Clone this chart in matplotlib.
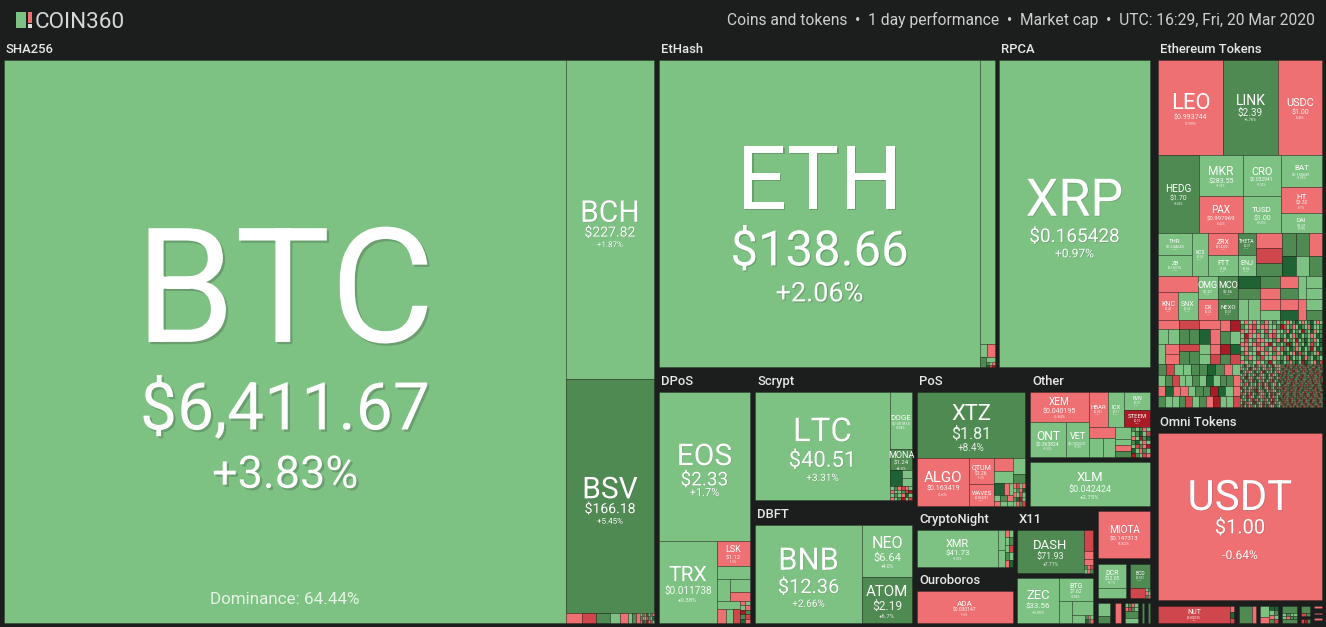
"""
COIN360 market cap heatmap, 20 Mar 2020
Treemap tiles come from nested weight lists, read off the screenshot.
"""

import matplotlib
matplotlib.use('Agg')
import matplotlib.pyplot as plt
import matplotlib.patheffects as pe
from matplotlib.patches import Rectangle

plt.rcParams['font.family'] = ['Roboto', 'DejaVu Sans']

# tile colours by performance bucket
COLORS = {
    'g': '#7dc283', 'm': '#4f8a52', 'd': '#1f6233',
    'r': '#ee7072', 'c': '#cf474c', 'x': '#a91c26',
}

PRICES = {
    'BTC': '$6,411.67', 'BCH': '$227.82', 'BSV': '$166.18', 'ETH': '$138.66',
    'XRP': '$0.165428', 'EOS': '$2.33', 'TRX': '$0.011738', 'LSK': '$1.12',
    'LTC': '$40.51', 'DOGE': '$0.001814', 'MONA': '$1.24', 'BNB': '$12.36',
    'NEO': '$6.64', 'ATOM': '$2.19', 'XTZ': '$1.81', 'ALGO': '$0.163419',
    'QTUM': '$1.26', 'WAVES': '$0.863281', 'XEM': '$0.040195', 'ONT': '$0.363824',
    'VET': '$0.002531', 'XLM': '$0.042424', 'DASH': '$71.93', 'ZEC': '$33.56',
    'BTG': '$7.62', 'MIOTA': '$0.147313', 'DCR': '$12.05', 'BCD': '$0.551',
    'XMR': '$41.73', 'ADA': '$0.030147', 'USDT': '$1.00', 'LEO': '$0.993744',
    'LINK': '$2.39', 'USDC': '$1.00', 'HEDG': '$1.70', 'MKR': '$283.55',
    'CRO': '$0.032941', 'BAT': '$0.150681', 'PAX': '$0.997969', 'TUSD': '$1.00',
    'HT': '$3.32', 'DAI': '$1.01', 'THR': '$1.244645', 'ZB': '$0.130374',
    'KCS': '$0.55', 'ZRX': '$0.142021', 'FTT': '$1.84', 'THETA': '$0.07',
    'ENJ': '$0.06', 'OMG': '$0.47', 'MCO': '$2.56', 'KNC': '$0.42',
    'SNX': '$0.65', 'DX': '$0.02', 'NEXO': '$0.07', 'HBAR': '$0.021',
    'ICX': '$0.11', 'RVN': '$0.01', 'STEEM': '$0.10', 'NUT': '$0.000155',
}
CHANGES = {
    'BTC': '+3.83%', 'BCH': '+1.87%', 'BSV': '+5.45%', 'ETH': '+2.06%',
    'XRP': '+0.97%', 'EOS': '+1.7%', 'TRX': '+0.38%', 'LSK': '-1.5%',
    'LTC': '+3.31%', 'DOGE': '+0.84%', 'MONA': '+4.8%', 'BNB': '+2.66%',
    'NEO': '+4.0%', 'ATOM': '+6.7%', 'XTZ': '+8.4%', 'ALGO': '-0.6%',
    'QTUM': '-1.2%', 'WAVES': '-0.9%', 'XEM': '-0.84%', 'ONT': '+1.02%',
    'VET': '+1.3%', 'XLM': '+2.75%', 'DASH': '+7.71%', 'ZEC': '+0.95%',
    'BTG': '+2.88%', 'MIOTA': '-3.82%', 'DCR': '+1.1%', 'BCD': '+5.0%',
    'XMR': '+1.02%', 'ADA': '-1.6%', 'USDT': '-0.64%', 'LEO': '-0.99%',
    'LINK': '+6.78%', 'USDC': '-0.48%', 'HEDG': '+5.86%', 'MKR': '+1.52%',
    'CRO': '+1.53%', 'BAT': '+1.86%', 'PAX': '-0.42%', 'TUSD': '+0.25%',
    'HT': '-0.7%', 'DAI': '+0.9%', 'THR': '+2.86%', 'ZB': '+0.94%',
    'KCS': '+1.0%', 'ZRX': '-1.6%', 'FTT': '+1.5%', 'THETA': '+6.1%',
    'ENJ': '+1.9%', 'OMG': '+1.4%', 'MCO': '+5.2%', 'KNC': '-1.3%',
    'SNX': '+1.7%', 'DX': '-1.1%', 'NEXO': '+4.6%', 'HBAR': '-1.4%',
    'ICX': '+1.2%', 'RVN': '+0.8%', 'STEEM': '-9.1%', 'NUT': '-3.5%',
}
# name / price / change font size in pixels
LABEL_PX = {
    'BTC': (160, 66, 45), 'BCH': (30, 14, 8), 'BSV': (30, 14, 8), 'ETH': (88, 49, 27),
    'XRP': (52, 19, 12), 'EOS': (30, 19, 11), 'TRX': (21, 10, 6), 'LSK': (9, 6, 3),
    'LTC': (33, 22, 10), 'DOGE': (8, 4, 3), 'MONA': (9, 6, 4), 'BNB': (31, 20, 10),
    'NEO': (16, 11, 5), 'ATOM': (15, 12, 6), 'XTZ': (22, 16, 10), 'ALGO': (15, 7, 4),
    'QTUM': (7, 5, 3), 'WAVES': (6, 3, 2), 'XEM': (10, 7, 4), 'ONT': (12, 5, 3),
    'VET': (9, 4, 3), 'XLM': (13, 9, 6), 'DASH': (13, 9, 5), 'ZEC': (13, 8, 4),
    'BTG': (7, 5, 3), 'MIOTA': (10, 6, 4), 'DCR': (7, 5, 3), 'BCD': (5, 3, 2),
    'XMR': (11, 8, 3), 'ADA': (8, 5, 3), 'USDT': (42, 20, 12), 'LEO': (22, 7, 4),
    'LINK': (14, 10, 4), 'USDC': (11, 7, 3), 'HEDG': (10, 7, 3), 'MKR': (12, 7, 3),
    'CRO': (11, 5, 3), 'BAT': (8, 4, 3), 'PAX': (10, 6, 3), 'TUSD': (8, 7, 3),
    'HT': (8, 5, 3), 'DAI': (6, 4, 3), 'THR': (6, 4, 2), 'ZB': (6, 3, 2),
    'KCS': (5, 3, 2), 'ZRX': (7, 3, 2), 'FTT': (7, 3, 2), 'THETA': (5, 3, 2),
    'ENJ': (7, 3, 2), 'OMG': (9, 4, 2), 'MCO': (9, 4, 2), 'KNC': (7, 3, 2),
    'SNX': (7, 3, 2), 'DX': (6, 3, 2), 'NEXO': (6, 3, 2), 'HBAR': (6, 3, 2),
    'ICX': (6, 3, 2), 'RVN': (5, 3, 2), 'STEEM': (6, 3, 2), 'NUT': (7, 3, 2),
}
# nudges for the label rows that drift from the common spacing
LABEL_SHIFT = {
    'BTC': (0, 0, 2), 'USDT': (-5, -7, 3), 'ETH': (3, 0, 0), 'BCH': (3, 0, 0),
    'BSV': (3, 0, 0), 'EOS': (3, 1, -3), 'LINK': (0, -1, -2),
}

# tree nodes: [weight, 'h'|'v', children], [weight, colour, name],
# [weight, '_', title] for empty space, [weight, 'grid', rows of colour letters]
SHA256 = [650, 'v', [
    [20, '_', 'SHA256'],
    [563, 'h', [
        [562, 'g', 'BTC'],
        [88, 'v', [
            [319, 'g', 'BCH'],
            [234, 'm', 'BSV'],
            [10, 'h', [
                [16, 'r'], [14, 'c'], [14, 'm'], [10, 'g'], [8, 'r'], [4, 'g'], [4, 'm'], [4, 'r'],
                [14, 'grid', ['gmrdgmr', 'mrgcmgd', 'rdmxrcg']],
            ]],
        ]],
    ]],
]]

ETHASH = [336, 'v', [
    [20, '_', 'EtHash'],
    [307, 'h', [
        [321, 'g', 'ETH'],
        [15, 'v', [
            [284, 'g'],
            [13, 'h', [[7, 'g'], [8, 'r']]],
            [10, 'h', [[6, 'm'], [8, 'v', [[5, 'g'], [5, 'grid', ['mgr', 'dcx']]]]]],
        ]],
    ]],
]]
RPCA = [151, 'v', [[20, '_', 'RPCA'], [307, 'g', 'XRP']]]

DPOS = [91, 'v', [
    [20, '_', 'DPoS'],
    [149, 'g', 'EOS'],
    [82, 'h', [
        [58, 'g', 'TRX'],
        [33, 'v', [
            [25, 'r', 'LSK'],
            [13, 'g'],
            [22, 'h', [[13, 'g'], [20, 'v', [[13, 'g'], [9, 'r']]]]],
            [22, 'h', [
                [23, 'v', [[8, 'g'], [14, 'h', [[9, 'r'], [7, 'g'], [7, 'c']]]]],
                [10, 'grid', ['rg', 'gr', 'xm', 'mc', 'dr']],
            ]],
        ]],
    ]],
]]

SCRYPT_DBFT = [157, 'v', [
    [20, '_', 'Scrypt'],
    [108, 'h', [
        [135, 'g', 'LTC'],
        [22, 'v', [
            [57, 'g', 'DOGE'],
            [21, 'm', 'MONA'],
            [16, 'h', [[12, 'd'], [10, 'v', [[8, 'g'], [8, 'g']]]]],
            [14, 'grid', ['gmrcrg', 'rggmcx', 'gmgrdg', 'rgmxgc']],
        ]],
    ]],
    [5, '_'],
    [20, '_', 'DBFT'],
    [98, 'h', [
        [107, 'g', 'BNB'],
        [50, 'v', [[52, 'g', 'NEO'], [46, 'm', 'ATOM']]],
    ]],
]]

POS = [108, 'v', [
    [20, '_', 'PoS'],
    [66, 'm', 'XTZ'],
    [48, 'h', [
        [52, 'r', 'ALGO'],
        [25, 'v', [[26, 'r', 'QTUM'], [22, 'r', 'WAVES']]],
        [31, 'h', [
            [19, 'v', [
                [13, 'r'], [12, 'g'],
                [12, 'h', [[10, 'd'], [5, 'r'], [4, 'g']]],
                [11, 'grid', ['gmr', 'rgg']],
            ]],
            [12, 'v', [
                [16, 'g'], [9, 'm'],
                [23, 'grid', ['rcgr', 'gmrd', 'rgcg', 'mdxg', 'grmc']],
            ]],
        ]],
    ]],
]]

OTHER = [120, 'v', [
    [20, '_', 'Other'],
    [65, 'h', [
        [59, 'v', [
            [30, 'r', 'XEM'],
            [35, 'h', [[36, 'g', 'ONT'], [23, 'g', 'VET']]],
        ]],
        [61, 'v', [
            [35, 'h', [
                [19, 'r', 'HBAR'],
                [16, 'g', 'ICX'],
                [26, 'v', [[18, 'g', 'RVN'], [17, 'x', 'STEEM']]],
            ]],
            [30, 'h', [
                [26, 'v', [[11, 'r'], [19, 'h', [[14, 'g'], [12, 'g']]]]],
                [16, 'v', [[12, 'g'], [6, 'g'], [6, 'r'], [6, 'm']]],
                [19, 'grid', ['mgmrg', 'gmdgc', 'rgxmd', 'mdgrg', 'gcmrx', 'dgrmg', 'xmgcr']],
            ]],
        ]],
    ]],
    [5, '_'],
    [44, 'g', 'XLM'],
]]

POW_SMALL = [96, 'v', [
    [24, '_', 'CryptoNight'],
    [37, 'h', [
        [81, 'g', 'XMR'],
        [15, 'h', [
            [7, 'v', [[20, 'g'], [17, 'g']]],
            [8, 'grid', ['rg', 'gm', 'gc', 'mg', 'rd']],
        ]],
    ]],
    [24, '_', 'Ouroboros'],
    [32, 'r', 'ADA'],
]]

X11 = [76, 'v', [
    [24, '_', 'X11'],
    [43, 'h', [
        [67, 'm', 'DASH'],
        [9, 'v', [[21, 'c'], [8, 'r'], [6, 'r'], [8, 'grid', ['mrc', 'grm']]]],
    ]],
    [5, '_'],
    [45, 'h', [
        [42, 'g', 'ZEC'],
        [34, 'v', [
            [23, 'g', 'BTG'],
            [22, 'h', [
                [13, 'g'],
                [21, 'v', [[14, 'g'], [8, 'h', [[13, 'g'], [8, 'grid', ['mrg', 'dmr']]]]]],
            ]],
        ]],
    ]],
]]

SMALL_COINS = [52, 'v', [
    [5, '_'],
    [47, 'r', 'MIOTA'],
    [6, '_'],
    [34, 'h', [
        [28, 'v', [[24, 'g', 'DCR'], [10, 'g']]],
        [4, '_'],
        [20, 'v', [
            [24, 'm', 'BCD'],
            [10, 'h', [[15, 'c'], [5, 'grid', ['gm', 'rg', 'mr']]]],
        ]],
    ]],
    [5, '_'],
    [20, 'h', [
        [12, 'v', [[13, 'g'], [7, 'm']]],
        [4, '_'],
        [6, 'r'],
        [4, '_'],
        [12, 'v', [[8, 'grid', ['gmrg', 'rcmg']], [7, 'm'], [5, 'g']]],
        [4, '_'],
        [2, 'm'],
        [4, '_'],
        [2, 'm'],
    ]],
]]

ETH_ROW2 = [78, 'h', [
    [41, 'm', 'HEDG'],
    [44, 'v', [[41, 'g', 'MKR'], [37, 'r', 'PAX']]],
    [38, 'v', [[41, 'g', 'CRO'], [37, 'g', 'TUSD']]],
    [41, 'v', [[32, 'g', 'BAT'], [26, 'r', 'HT'], [20, 'g', 'DAI']]],
]]
ETH_ROW3 = [43, 'h', [
    [34, 'v', [[22, 'g', 'THR'], [21, 'g', 'ZB']]],
    [16, 'g', 'KCS'],
    [30, 'v', [[22, 'r', 'ZRX'], [21, 'g', 'FTT']]],
    [18, 'v', [[22, 'm', 'THETA'], [21, 'g', 'ENJ']]],
    [26, 'v', [[15, 'r'], [15, 'c'], [13, 'm']]],
    [14, 'v', [[23, 'm'], [20, 'd']]],
    [13, 'v', [[23, 'm'], [20, 'g']]],
    [13, 'v', [[23, 'r'], [20, 'm']]],
]]
ETH_ROW4 = [44, 'h', [
    [40, 'v', [[16, 'r'], [28, 'h', [[20, 'r', 'KNC'], [20, 'g', 'SNX']]]]],
    [40, 'v', [
        [23, 'h', [[20, 'g', 'OMG'], [20, 'm', 'MCO']]],
        [21, 'h', [[20, 'r', 'DX'], [20, 'm', 'NEXO']]],
    ]],
    [22, 'v', [[12, 'd'], [11, 'm'], [21, 'h', [[10, 'g'], [12, 'g']]]]],
    [20, 'v', [[12, 'm'], [11, 'r'], [11, 'r'], [10, 'g']]],
    [18, 'v', [[12, 'r'], [11, 'm'], [11, 'r'], [10, 'd']]],
    [8, 'v', [[23, 'g'], [21, 'r']]],
    [16, 'v', [[12, 'g'], [11, 'g'], [11, 'g'], [10, 'm']]],
]]

MOSAIC_C = [
    'grgrgmrgmg', 'mgrcgrrggm', 'rgrrmgcgrg', 'gxrgrgmrcg', 'gcgmrrggmr',
    'rrgrcgrxgm', 'grmgrrmgcg', 'mrggxgrgmr', 'gmrgmcggrg', 'rgmgrgmxgm',
]
MOSAIC_D = [
    'mgrgmdgrgmdgrg', 'xcgmrgdmgrdggm', 'gmrdgmgxmgdrgm', 'mgdgrmdgmgrgdm',
    'drgmgxgmdgmrgd', 'gmxdgrmgdgcmgd', 'cmgdmrgdgmxgdm', 'gdmgrdcmgdmgrd',
    'mgcdgmgdrmgdmg', 'dgmrmdgxdmgrdc',
]
MOSAIC_E = [
    'gmdrgmgdcgmrgdgmxgrg', 'rgmgdxgrmgdgrmcgdmrg', 'dmgcrgmdgmrxdgmgdgcr',
    'gmrdgmgcdmrgmdgxrgmd', 'mgdxgrmdgrcgmdgrmdgc', 'rdgmcgxmdgmrdgmcxgmd',
    'gmcrdgmgdrmxgcdmgrdg', 'xmgdgrmcdgmdrgxmgdcm', 'gdrmgcmdxgrmdgcmrgdm',
    'mcgdrxgmdcgrmdgxmdrg', 'dgmxcrgdmgrcmdgxrmgd', 'rmgdgcxmrdgmcgdrxmgd',
    'gdcmrgdxmgrdcmgxdrmg', 'mxgdrcmgdrgxmdcgrdmg',
]
MOSAIC_F = [
    'gmrgdxcgmmrgdgcxrmgdggrmcxdgmrgcmdgrxgmcdg', 'rcgmgdrmxgggcdmrgxmgrdcgmgxrgdmcggrxdmgrcm',
    'gxmdrggcmrdgxgmgcrdmggxrcgmdrggmxcdrgmgrdc', 'mgrcgxdmggrmcdxgrggmdcrgxgmrdgcgmxrgdmcrgg',
    'cgdmrgxggmdrcggxmrdgmcgrggdxmrgcgmdrxgcgmd', 'gmxrgcdgmrgggxdcmrggdmxcgrmggdcrxmggrdcgmx',
    'rdggmxcrgdgmgcxrggdmrcxgmgdgrcmxgdrggcmgxr', 'gcmxgrdggmcrxdgggmrcdxgrggmcdrgxmggcrdgmxg',
    'xggdrcmgxgrdgmcgrxdgmgcrgdxggmrcdgxrgmcgdr', 'mrgcdxgggrmdcgxrgmgdcrgxmggdrcgmxdgrcgmgdx',
    'gdxmggrcgdmxrggcmdgrxgcmgdrgxcmggrdxcmgrgd', 'cmggrxdgcmrgdgxgmrcdggxmrgdcgmxgrdcgmrgxgd',
    'rgxdcggmrdgxcgmgrdxcgmgdrxgcmggrdxcgmdrggx', 'dgmcrgxgdmcgrxggdmcrgxdmggcrxgdmgcrgxdmcgg',
    'gxrmgdcggxrdmgcgxrmgdcgrxmgdgcrmxgdgrcmgxd', 'mcgdxrggmcdxgrgmdcxrgmgdcxrggmdxcrgmgdxcgr',
    'grdxgmcrgdgxmcgrdgxmgcrdgxmgrcdgxmgcrgdxmg', 'xgmcrdggxmcgrdgxmgcrdxgmgcrdxggmcrdgxmgrcg',
    'cdgxrmggcdxrgmgcdxrgmgcxdrgmgcdxrggmcxdrgm', 'gmxcgrdgmxcgrdgmxgcrdgmxcgrgdmxcgrdgmxcggr',
    'rgcmxdgrgcmxdgrgcmdxgrgcmxdggrcmxdgrgcmxdg', 'dxgrmcgdxgrmcgdxrgmcgdxgrmcgdxgrgmcdxgrmcg',
]
# lower part of the Ethereum tokens block, one small list per run of tiles
ETH_LOWER = [87, 'v', [
    [44, 'h', [
        [62, 'v', [
            [9, 'grid', ['rcr']],
            [15, 'grid', ['ggmmdr']],
            [20, 'h', [
                [7, 'g'],
                [14, 'v', [[10, 'r'], [10, 'r']]],
                [20, 'v', [[7, 'c'], [13, 'h', [[10, 'm'], [10, 'm']]]]],
                [11, 'v', [[10, 'g'], [10, 'g']]],
                [10, 'v', [[10, 'r'], [10, 'c']]],
            ]],
        ]],
        [20, 'v', [
            [11, 'grid', ['rx']],
            [13, 'grid', ['mg']],
            [20, 'grid', ['xd', 'mc']],
        ]],
        [40, 'grid', MOSAIC_C],
        [42, 'grid', MOSAIC_D],
    ]],
    [43, 'h', [
        [82, 'grid', ['mcggmmdmrg', 'gmcggmgdgmmr', 'rdrrgmmxdgr', 'mggmcgmrxggc']],
        [40, 'grid', MOSAIC_E],
        [42, 'grid', MOSAIC_F],
    ]],
]]

ETH_TOKENS = [164, 'v', [
    [20, '_', 'Ethereum Tokens'],
    [95, 'h', [[65, 'r', 'LEO'], [55, 'm', 'LINK'], [44, 'r', 'USDC']]],
    ETH_ROW2,
    ETH_ROW3,
    ETH_ROW4,
    ETH_LOWER,
    [6, '_'],
    [20, '_', 'Omni Tokens'],
    [167, 'r', 'USDT'],
    [6, '_'],
    [17, 'h', [
        [72, 'c', 'NUT'],
        [4, 'v', [[6, 'r'], [6, 'd'], [5, 'c']]],
        [5, '_'],
        [17, 'h', [[13, 'm'], [4, 'r']]],
        [4, '_'],
        [18, 'h', [
            [9, 'v', [[11, 'g'], [6, 'r']]],
            [9, 'grid', ['dd', 'gm', 'rg', 'mc']],
        ]],
        [4, '_'],
        [15, 'v', [[7, 'm'], [6, 'grid', ['gmgg', 'grmm']], [4, 'm']]],
        [4, '_'],
        [9, 'v', [[7, 'm'], [3, 'grid', ['cm']], [3, '_'], [4, 'grid', ['cxm']]]],
        [4, '_'],
        [8, 'v', [[2, 'r'], [5, '_'], [1, 'r'], [4, '_'], [2, 'r'], [3, '_']]],
    ]],
]]

ROOT = [1318, 'h', [
    SHA256,
    [5, '_'],
    [491, 'v', [
        [327, 'h', [ETHASH, [4, '_'], RPCA]],
        [5, '_'],
        [251, 'h', [
            DPOS,
            [5, '_'],
            SCRYPT_DBFT,
            [5, '_'],
            [233, 'v', [
                [134, 'h', [POS, [5, '_'], OTHER]],
                [117, 'h', [POW_SMALL, [4, '_'], X11, [5, '_'], SMALL_COINS]],
            ]],
        ]],
    ]],
    [8, '_'],
    ETH_TOKENS,
]]

HEADER_INFO = 'Coins and tokens  \u2022  1 day performance  \u2022  Market cap  \u2022  UTC: 16:29, Fri, 20 Mar 2020'
DOMINANCE = 'Dominance: 64.44%'


def px(size):
    # font size in points for a size in pixels at dpi 100
    return size * 0.72


def draw_label(ax, name, x, y, w, h):
    n, p, c = LABEL_PX[name]
    name_c = y + h / 2 + 0.225 * n - ((n + p) * 0.535 + (p + c) * 0.575) / 2
    price_c = name_c + (n + p) * 0.535
    change_c = price_c + (p + c) * 0.575
    shift = LABEL_SHIFT.get(name, (0, 0, 0))
    big = n >= 30
    effects = None
    if big:
        off = n / 100
        effects = [pe.withSimplePatchShadow(offset=(off, -off), shadow_rgbFace='#333333', alpha=0.25)]
    rows = [(name, n, name_c + shift[0], 1.0),
            (PRICES[name], p, price_c + shift[1], 1.0 if big else 0.9),
            (CHANGES[name], c, change_c + shift[2], 1.0 if big else 0.85)]
    for txt, size, cy, alpha in rows:
        t = ax.text(x + w / 2, cy + 0.355 * size, txt, ha='center', va='baseline',
                    fontsize=px(size), color='white', alpha=alpha)
        if effects:
            t.set_path_effects(effects)


def draw_tile(ax, x, y, w, h, code):
    # thin dark seam, fainter on the tiniest tiles
    seam = 0.22 if min(w, h) >= 3 else 0.1
    ax.add_patch(Rectangle((x, y), w, h, facecolor=COLORS[code],
                           edgecolor=(0, 0, 0, seam), linewidth=0.7))


def layout(ax, node, x, y, w, h):
    kind = node[1]
    if kind == '_':
        if len(node) > 2:
            ax.text(x + 2, y + h - 10.5, node[2], ha='left', va='center',
                    fontsize=px(13), color='#e8e8e8', fontweight='medium')
    elif kind == 'grid':
        rh = h / len(node[2])
        for i, row in enumerate(node[2]):
            cw = w / len(row)
            for j, code in enumerate(row):
                draw_tile(ax, x + j * cw, y + i * rh, cw, rh, code)
    elif kind in ('h', 'v'):
        total = sum(k[0] for k in node[2])
        pos = 0
        for kid in node[2]:
            frac = kid[0] / total
            if kind == 'h':
                layout(ax, kid, x + pos * w, y, frac * w, h)
            else:
                layout(ax, kid, x, y + pos * h, w, frac * h)
            pos += frac
    else:
        draw_tile(ax, x, y, w, h, kind)
        if len(node) > 2:
            draw_label(ax, node[2], x, y, w, h)


def create_figure(save_path='out.png'):
    fig = plt.figure(figsize=(13.26, 6.27), dpi=100, facecolor='#1c1d1d')
    ax = fig.add_axes([0, 0, 1, 1])
    ax.set_xlim(0, 1326)
    ax.set_ylim(627, 0)
    ax.axis('off')

    layout(ax, ROOT, 4, 40, 1318, 583)

    ax.text(285, 600, DOMINANCE, ha='center', va='center', fontsize=px(17),
            color='white', alpha=0.8)

    # logo and top bar
    ax.add_patch(Rectangle((16, 12), 10, 16, facecolor=COLORS['g'], edgecolor='none'))
    ax.add_patch(Rectangle((28, 12), 4, 11, facecolor=COLORS['r'], edgecolor='none'))
    ax.add_patch(Rectangle((28, 24), 4, 4, facecolor='#dddddd', edgecolor='none'))
    ax.text(35, 27.5, 'COIN360', ha='left', va='baseline', fontsize=px(22.5),
            color='#d8d8d8')
    ax.text(1315, 19.5, HEADER_INFO, ha='right', va='center', fontsize=px(15.6), color='#cfcfcf')

    fig.savefig(save_path, dpi=100, facecolor=fig.get_facecolor())
    plt.close(fig)


if __name__ == '__main__':
    create_figure()
